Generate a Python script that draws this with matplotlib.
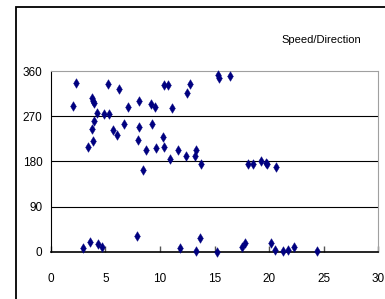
import matplotlib
matplotlib.use("Agg")
import matplotlib.pyplot as plt
from matplotlib.patches import Rectangle

# wind speed / direction readings
speed = [2.32, 2.07, 3.75, 3.90, 3.99, 4.21, 3.99, 3.75, 3.90, 3.39,
         5.27, 4.85, 5.31, 5.73, 6.10, 6.28, 6.74, 7.08, 8.06, 8.06,
         8.02, 8.48, 8.75, 9.18, 9.52, 9.28, 9.67, 10.31, 10.38, 10.38,
         10.77, 10.92, 11.11, 11.66, 12.36, 12.45, 12.77, 15.29, 15.38, 16.45,
         13.24, 13.33, 13.76, 18.04, 18.50, 19.29, 19.69, 19.78, 20.66,
         2.96, 3.60, 4.33, 4.70, 7.93, 11.87, 13.33, 13.63, 15.27, 17.49,
         17.82, 20.15, 20.52, 21.23, 21.71, 22.26, 24.36]
direction = [337, 291, 307, 301, 296, 276, 260, 244, 220, 208,
             334, 274, 274, 242, 232, 324, 254, 289, 300, 248,
             222, 162, 203, 295, 288, 254, 207, 228, 209, 332,
             332, 185, 286, 203, 191, 317, 335, 352, 347, 350,
             190, 203, 175, 175, 175, 180, 177, 174, 168,
             7, 20, 15, 9, 32, 7, 1, 27, 0, 9,
             17, 17, 4, 2, 4, 10, 2]

xticks = [0, 5, 10, 15, 20, 25, 30]
yticks = [0, 90, 180, 270, 360]

plt.rcParams["font.family"] = ["Liberation Sans", "DejaVu Sans"]

fig = plt.figure(figsize=(3.85, 2.99), dpi=100)
fig.patch.set_facecolor("white")

# outer chart frame (runs off the right/bottom edge)
fig.patches.append(Rectangle((16 / 385, -0.05), 1.2, 1 - 7 / 299 + 0.05,
                             transform=fig.transFigure, fill=False,
                             edgecolor="black", linewidth=1.3))

ax = fig.add_axes([50.7 / 385, (299 - 251.7) / 299, 327.6 / 385, 180.7 / 299])
ax.scatter(speed, direction, marker="d", s=24, color="#000080",
           edgecolors="#000080", linewidths=0.3, zorder=3, clip_on=False)

ax.set_xlim(0, 30)
ax.set_ylim(0, 360)
ax.set_xticks(xticks)
ax.set_yticks(yticks)
ax.set_xticklabels([str(t) for t in xticks])
ax.set_yticklabels([str(t) for t in yticks])

for y in yticks[1:-1]:
    ax.axhline(y, color="black", linewidth=0.8, zorder=1)

ax.spines["left"].set_color("black")
ax.spines["bottom"].set_color("black")
ax.spines["bottom"].set_linewidth(1.2)
ax.spines["top"].set_color("#a0a0a0")
ax.spines["right"].set_color("#a0a0a0")

ax.tick_params(axis="x", direction="in", length=4, width=1, color="#555555",
               pad=15, labelsize=8.5)
ax.tick_params(axis="y", length=0, pad=6, labelsize=8.5)

fig.text(321 / 385, (299 - 40) / 299, "Speed/Direction", ha="center",
         va="center", fontsize=8)

fig.savefig("out.png", dpi=100)
